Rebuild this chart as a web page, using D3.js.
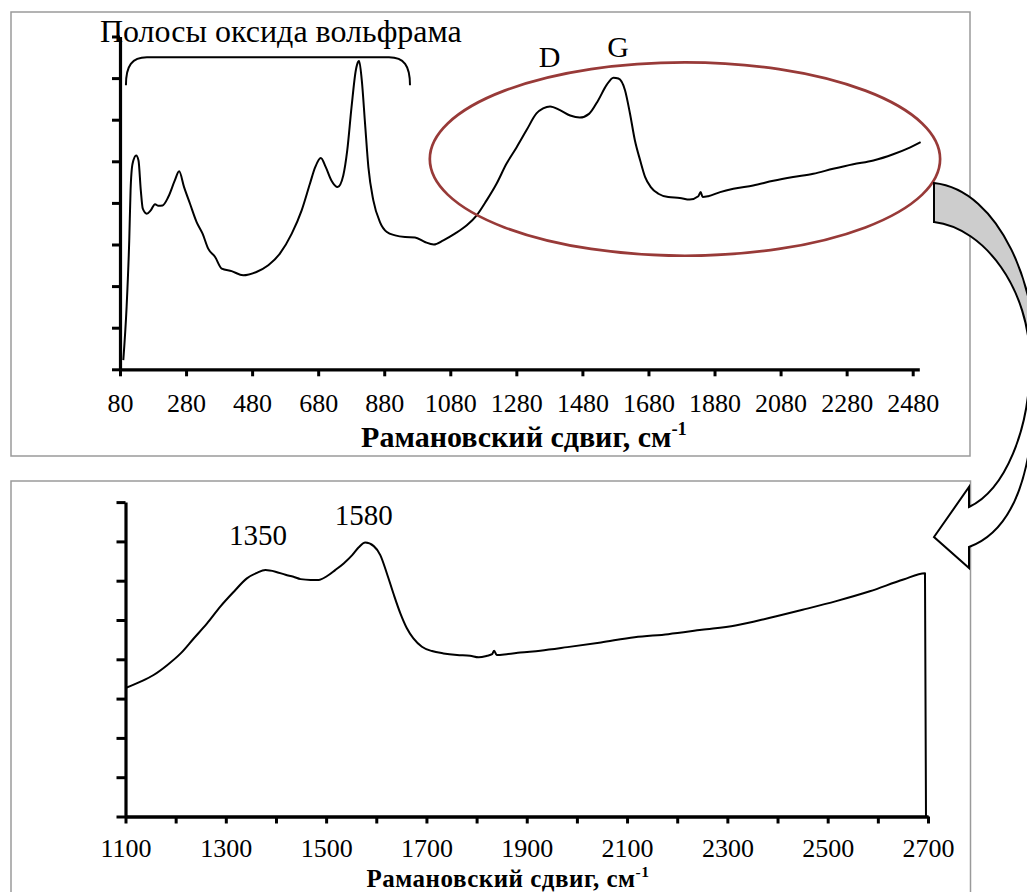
<!DOCTYPE html>
<html>
<head>
<meta charset="utf-8">
<script src="https://cdn.jsdelivr.net/npm/d3@7"></script>
<style>
  html, body { margin: 0; padding: 0; background: #fff; }
  svg { display: block; }
  text { font-family: "Liberation Serif", "Times New Roman", serif; fill: #000; }
</style>
</head>
<body>
<svg id="fig" width="1027" height="892"></svg>
<script>
// ---- Full Raman spectrum (shift in cm-1, intensity in arbitrary units) ----
const fullShift = [
  90, 100, 108, 112, 118, 129, 136, 143, 149, 161, 173, 186, 196, 209, 226, 246, 259, 274, 292, 312,
  330, 347, 368, 388, 418, 453, 493, 529, 564, 600, 630, 655, 671, 688, 703, 720, 739, 756, 768, 781,
  794, 801, 804, 812, 822, 832, 847, 867, 888, 913, 943, 973, 1003, 1030, 1059, 1094, 1130, 1160, 1190, 1220,
  1250, 1281, 1311, 1341, 1361, 1382, 1412, 1443, 1472, 1500, 1528, 1553, 1574, 1589, 1609, 1624, 1639, 1655, 1670, 1687,
  1710, 1740, 1775, 1805, 1831, 1838, 1844, 1861, 1897, 1937, 1997, 2058, 2118, 2179, 2239, 2300, 2361, 2421, 2471, 2504
];
const fullIntensity = [
  0.22, 1.50, 3.10, 4.30, 4.94, 5.14, 5.02, 4.30, 3.86, 3.74, 3.82, 3.97, 3.93, 3.94, 4.14, 4.54, 4.76, 4.38, 3.98, 3.54,
  3.26, 2.90, 2.70, 2.42, 2.36, 2.26, 2.34, 2.50, 2.78, 3.26, 3.82, 4.46, 4.86, 5.08, 4.86, 4.54, 4.38, 4.66, 5.26, 6.30,
  7.19, 7.39, 7.41, 6.95, 5.90, 4.86, 4.06, 3.54, 3.30, 3.22, 3.18, 3.17, 3.06, 3.00, 3.10, 3.26, 3.46, 3.70, 4.06, 4.46,
  4.94, 5.34, 5.75, 6.15, 6.27, 6.32, 6.23, 6.10, 6.05, 6.14, 6.47, 6.83, 7.01, 6.99, 6.71, 6.15, 5.50, 5.02, 4.62, 4.38,
  4.22, 4.14, 4.12, 4.08, 4.16, 4.26, 4.14, 4.16, 4.26, 4.34, 4.42, 4.53, 4.62, 4.70, 4.82, 4.93, 5.02, 5.17, 5.33, 5.46
];

// ---- Carbon region (D and G bands) ----
const zoomShift = [
  1100, 1130, 1156, 1183, 1210, 1236, 1263, 1289, 1316, 1342, 1362, 1379, 1399, 1419, 1435, 1449, 1469, 1485, 1502, 1518,
  1535, 1552, 1565, 1578, 1595, 1608, 1621, 1634, 1648, 1661, 1674, 1691, 1711, 1734, 1761, 1787, 1804, 1821, 1831, 1835,
  1840, 1860, 1887, 1927, 1981, 2048, 2115, 2182, 2249, 2316, 2383, 2450, 2517, 2584, 2651, 2694, 2696
];
const zoomIntensity = [
  3.27, 3.43, 3.60, 3.85, 4.15, 4.53, 4.92, 5.34, 5.72, 6.06, 6.20, 6.27, 6.23, 6.15, 6.10, 6.04, 6.02, 6.02, 6.12, 6.27,
  6.44, 6.65, 6.85, 6.97, 6.88, 6.65, 6.19, 5.68, 5.17, 4.79, 4.53, 4.32, 4.21, 4.15, 4.11, 4.09, 4.05, 4.09, 4.13, 4.22,
  4.11, 4.13, 4.17, 4.22, 4.31, 4.43, 4.56, 4.64, 4.75, 4.86, 5.05, 5.26, 5.48, 5.73, 6.03, 6.19, 0
];

// ---- Axis ticks ----
const fullTicks = [80, 280, 480, 680, 880, 1080, 1280, 1480, 1680, 1880, 2080, 2280, 2480];
const zoomTicks = [1100, 1300, 1500, 1700, 1900, 2100, 2300, 2500, 2700];
const zoomMinorTicks = [1200, 1400, 1600, 1800, 2000, 2200, 2400, 2600];
const levelTicks = [0, 1, 2, 3, 4, 5, 6, 7, 8];

// ---- Annotations ----
const bandNames = ["D", "G"];
const bandShift = [1381, 1588];
const bandLevel = [7.27, 7.51];
const peakNames = ["1350", "1580"];
const peakShift = [1364, 1575];
const peakLevel = [6.91, 7.42];
const oxideTitle = "Полосы оксида вольфрама";
const axisTitle = "Рамановский сдвиг, см";

const svg = d3.select("#fig");

// panel frames
svg.append("rect").attr("x", 11).attr("y", 12).attr("width", 959).attr("height", 444)
  .attr("fill", "#fff").attr("stroke", "#9a9a9a").attr("stroke-width", 1.5);
svg.append("rect").attr("x", 11).attr("y", 481).attr("width", 959.5).attr("height", 430)
  .attr("fill", "#fff").attr("stroke", "#9a9a9a").attr("stroke-width", 1.5);

function styleAxis(g) {
  g.select(".domain").attr("stroke", "#000").attr("stroke-width", 3.2);
  g.selectAll(".tick line").attr("stroke", "#000").attr("stroke-width", 3);
  g.selectAll(".tick text").attr("font-family", "Liberation Serif, serif").attr("font-size", 26).attr("fill", "#000");
}

function drawAxisTitle(x, y, size, spacing) {
  const t = svg.append("text").attr("x", x).attr("y", y).attr("text-anchor", "middle")
    .attr("font-weight", "bold").attr("font-size", size).attr("letter-spacing", spacing);
  t.append("tspan").text(axisTitle);
  t.append("tspan").attr("dy", -size * 0.38).attr("font-size", size * 0.62).text("-1");
}

// ================= Upper chart: full spectrum =================
const x1 = d3.scaleLinear().domain([80, 2500]).range([120, 919.3]);
const y1 = d3.scaleLinear().domain([0, 8]).range([369.3, 36.5]);

svg.append("g").attr("transform", `translate(0,${y1(0)})`)
  .call(d3.axisBottom(x1).tickValues(fullTicks).tickFormat(d3.format("d"))
    .tickSize(7).tickSizeOuter(0).tickPadding(17))
  .call(styleAxis);
svg.append("g").attr("transform", `translate(${x1(80)},0)`)
  .call(d3.axisLeft(y1).tickValues(levelTicks).tickFormat("").tickSize(8).tickSizeOuter(0))
  .call(styleAxis);

const line1 = d3.line().curve(d3.curveMonotoneX)
  .x(i => x1(fullShift[i])).y(i => y1(fullIntensity[i]));
svg.append("path").attr("d", line1(d3.range(fullShift.length)))
  .attr("fill", "none").attr("stroke", "#000").attr("stroke-width", 2).attr("stroke-linejoin", "round");

// bracket over the tungsten oxide bands
{
  const xa = x1(98), xb = x1(958), yTop = y1(7.5), yEnd = y1(6.83);
  const r = 21;
  svg.append("path")
    .attr("d", `M${xa},${yEnd} C${xa},${yTop + 8} ${xa + 6},${yTop} ${xa + r},${yTop} ` +
               `H${xb - r} C${xb - 6},${yTop} ${xb},${yTop + 8} ${xb},${yEnd}`)
    .attr("fill", "none").attr("stroke", "#000").attr("stroke-width", 2);
}
svg.append("text").attr("x", x1(567)).attr("y", y1(7.86)).attr("text-anchor", "middle")
  .attr("font-size", 32).text(oxideTitle);

// ring around the carbon bands
{
  const xl = x1(1018), xr = x1(2563), yt = y1(7.38), yb = y1(2.73);
  svg.append("ellipse").attr("cx", (xl + xr) / 2).attr("cy", (yt + yb) / 2)
    .attr("rx", (xr - xl) / 2).attr("ry", (yb - yt) / 2)
    .attr("fill", "none").attr("stroke", "#983a38").attr("stroke-width", 2.7);
}
svg.selectAll("text.band").data(bandNames).join("text").attr("class", "band")
  .attr("x", (d, i) => x1(bandShift[i])).attr("y", (d, i) => y1(bandLevel[i]))
  .attr("text-anchor", "middle").attr("font-size", 30).text(d => d);

drawAxisTitle(524, 446.5, 30, 0);

// ================= Lower chart: D/G region =================
const x2 = d3.scaleLinear().domain([1100, 2700]).range([125.5, 928]);
const y2 = d3.scaleLinear().domain([0, 8]).range([816.5, 502.1]);

svg.append("g").attr("transform", `translate(0,${y2(0)})`)
  .call(d3.axisBottom(x2).tickValues(zoomMinorTicks).tickFormat("").tickSize(7).tickSizeOuter(0))
  .call(styleAxis);
svg.append("g").attr("transform", `translate(0,${y2(0)})`)
  .call(d3.axisBottom(x2).tickValues(zoomTicks).tickFormat(d3.format("d"))
    .tickSize(7).tickSizeOuter(0).tickPadding(15))
  .call(styleAxis);
svg.append("g").attr("transform", `translate(${x2(1100)},0)`)
  .call(d3.axisLeft(y2).tickValues(levelTicks).tickFormat("").tickSize(9).tickSizeOuter(0))
  .call(styleAxis);

const line2 = d3.line().curve(d3.curveMonotoneX)
  .x(i => x2(zoomShift[i])).y(i => y2(zoomIntensity[i]));
svg.append("path").attr("d", line2(d3.range(zoomShift.length)))
  .attr("fill", "none").attr("stroke", "#000").attr("stroke-width", 2).attr("stroke-linejoin", "round");

svg.selectAll("text.peak").data(peakNames).join("text").attr("class", "peak")
  .attr("x", (d, i) => x2(peakShift[i])).attr("y", (d, i) => y2(peakLevel[i]))
  .attr("text-anchor", "middle").attr("font-size", 29).text(d => d);

drawAxisTitle(508, 886.5, 25, 0.5);

// ================= Curved arrow linking the two charts =================
const arrow = svg.append("g").attr("stroke", "#000").attr("stroke-width", 2).attr("stroke-linejoin", "miter");
arrow.append("path")
  .attr("d", "M934,183 C1000,190 1040,290 1035,370 L1030,362 C1030,290 985,228 934,222 Z")
  .attr("fill", "#cdcdcd");
arrow.append("path")
  .attr("d", "M1030,362 C1030,430 1005,490 969,507 L969,487 L934,537 L969,568 L969,547 C1015,530 1035,470 1035,370 Z")
  .attr("fill", "#fff");
</script>
</body>
</html>
